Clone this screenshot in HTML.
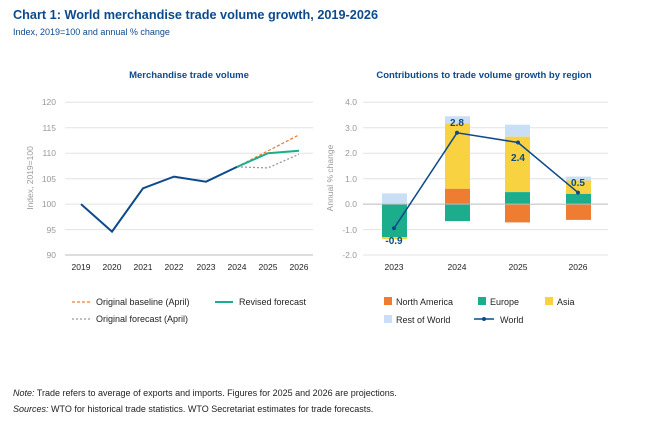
<!DOCTYPE html><html><head><style>body{margin:0;background:#fff;width:650px;height:427px;overflow:hidden;font-family:"Liberation Sans",sans-serif}</style></head><body>
<svg width="650" height="427" xmlns="http://www.w3.org/2000/svg" font-family="Liberation Sans, sans-serif">
<text x="13" y="19" font-size="12.7" font-weight="bold" fill="#0d4a8c">Chart 1: World merchandise trade volume growth, 2019-2026</text>
<text x="13" y="35" font-size="9" fill="#0d4a8c">Index, 2019=100 and annual % change</text>
<text x="189" y="78" font-size="9.5" font-weight="bold" fill="#0d4a8c" text-anchor="middle">Merchandise trade volume</text>
<text x="484" y="78" font-size="9.5" font-weight="bold" fill="#0d4a8c" text-anchor="middle">Contributions to trade volume growth by region</text>
<g stroke="#e3e3e3" stroke-width="1">
<line x1="65" x2="313" y1="102.3" y2="102.3"/><line x1="65" x2="313" y1="127.8" y2="127.8"/><line x1="65" x2="313" y1="153.2" y2="153.2"/><line x1="65" x2="313" y1="178.7" y2="178.7"/><line x1="65" x2="313" y1="204.1" y2="204.1"/><line x1="65" x2="313" y1="229.6" y2="229.6"/>
<line x1="363" x2="608" y1="102.3" y2="102.3"/><line x1="363" x2="608" y1="127.8" y2="127.8"/><line x1="363" x2="608" y1="153.2" y2="153.2"/><line x1="363" x2="608" y1="178.7" y2="178.7"/><line x1="363" x2="608" y1="229.6" y2="229.6"/><line x1="363" x2="608" y1="255" y2="255"/>
</g>
<line x1="65" x2="313" y1="255" y2="255" stroke="#bbb"/>
<g font-size="8.5" fill="#999" text-anchor="end">
<text x="56" y="105">120</text><text x="56" y="131">115</text><text x="56" y="156">110</text><text x="56" y="182">105</text><text x="56" y="207">100</text><text x="56" y="233">95</text><text x="56" y="258">90</text>
<text x="357" y="105">4.0</text><text x="357" y="131">3.0</text><text x="357" y="156">2.0</text><text x="357" y="182">1.0</text><text x="357" y="207">0.0</text><text x="357" y="233">-1.0</text><text x="357" y="258">-2.0</text>
</g>
<text transform="translate(33,178) rotate(-90)" font-size="8.5" fill="#999" text-anchor="middle">Index, 2019=100</text>
<text transform="translate(333,178) rotate(-90)" font-size="8.5" fill="#999" text-anchor="middle">Annual % change</text>
<g font-size="8.5" fill="#222" text-anchor="middle">
<text x="81" y="270">2019</text><text x="112" y="270">2020</text><text x="143" y="270">2021</text><text x="174" y="270">2022</text><text x="206" y="270">2023</text><text x="237" y="270">2024</text><text x="268" y="270">2025</text><text x="299" y="270">2026</text>
<text x="394" y="270">2023</text><text x="457" y="270">2024</text><text x="518" y="270">2025</text><text x="578" y="270">2026</text>
</g>
<polyline points="237,166.9 268,167.9 299,154.2" fill="none" stroke="#999" stroke-width="1.3" stroke-dasharray="2,2"/>
<polyline points="237,166.9 299,134.9" fill="none" stroke="#ef7d31" stroke-width="1.3" stroke-dasharray="3,2"/>
<polyline points="237,166.9 268,153.2 299,150.7" fill="none" stroke="#1cae8c" stroke-width="2"/>
<polyline points="81,204.1 112,231.6 143,188.3 174,176.6 206,181.7 237,166.9" fill="none" stroke="#0d4a8c" stroke-width="2"/>
<g>
<rect x="382" y="193.4" width="25" height="10.7" fill="#c8dff5"/>
<rect x="382" y="204.1" width="25" height="33.1" fill="#1cae8c"/>
<rect x="382" y="237.2" width="25" height="2" fill="#f8d240"/>
<rect x="445" y="116.3" width="25" height="7.1" fill="#c8dff5"/>
<rect x="445" y="123.4" width="25" height="65.4" fill="#f8d240"/>
<rect x="445" y="188.8" width="25" height="15.3" fill="#ef7d31"/>
<rect x="445" y="204.1" width="25" height="17" fill="#1cae8c"/>
<rect x="505" y="124.7" width="25" height="12" fill="#c8dff5"/>
<rect x="505" y="136.7" width="25" height="55.4" fill="#f8d240"/>
<rect x="505" y="192.1" width="25" height="12" fill="#1cae8c"/>
<rect x="505" y="204.1" width="25" height="18.3" fill="#ef7d31"/>
<rect x="566" y="176.6" width="25" height="3.9" fill="#c8dff5"/>
<rect x="566" y="180.5" width="25" height="13.4" fill="#f8d240"/>
<rect x="566" y="193.9" width="25" height="10.2" fill="#1cae8c"/>
<rect x="566" y="204.1" width="25" height="15.8" fill="#ef7d31"/>
</g>
<line x1="363" x2="608" y1="204.1" y2="204.1" stroke="#bbb"/>
<polyline points="394,228.3 457,132.8 518,142.5 578,192.6" fill="none" stroke="#0d4a8c" stroke-width="1.5"/>
<g fill="#0d4a8c"><circle cx="394" cy="228.3" r="2"/><circle cx="457" cy="132.8" r="2"/><circle cx="518" cy="142.5" r="2"/><circle cx="578" cy="192.6" r="2"/></g>
<g font-size="10" font-weight="bold" fill="#0d4a8c" text-anchor="middle">
<text x="394" y="244">-0.9</text><text x="457" y="126">2.8</text><text x="518" y="161">2.4</text><text x="578" y="186">0.5</text>
</g>
<g font-size="9" fill="#222">
<line x1="72" x2="90" y1="302" y2="302" stroke="#ef7d31" stroke-width="1.3" stroke-dasharray="3,2"/><text x="96" y="305">Original baseline (April)</text>
<line x1="215" x2="233" y1="302" y2="302" stroke="#1cae8c" stroke-width="2"/><text x="239" y="305">Revised forecast</text>
<line x1="72" x2="90" y1="319" y2="319" stroke="#999" stroke-width="1.3" stroke-dasharray="2,2"/><text x="96" y="322">Original forecast (April)</text>
<rect x="384" y="297" width="8" height="8" fill="#ef7d31"/><text x="396" y="305">North America</text>
<rect x="478" y="297" width="8" height="8" fill="#1cae8c"/><text x="490" y="305">Europe</text>
<rect x="545" y="297" width="8" height="8" fill="#f8d240"/><text x="557" y="305">Asia</text>
<rect x="384" y="315" width="8" height="8" fill="#c8dff5"/><text x="396" y="323">Rest of World</text>
<line x1="474" x2="494" y1="319" y2="319" stroke="#0d4a8c" stroke-width="1.5"/><circle cx="484" cy="319" r="2" fill="#0d4a8c"/><text x="500" y="323">World</text>
</g>
<g font-size="9" fill="#222">
<text x="13" y="396"><tspan font-style="italic">Note:</tspan> Trade refers to average of exports and imports. Figures for 2025 and 2026 are projections.</text>
<text x="13" y="412"><tspan font-style="italic">Sources:</tspan> WTO for historical trade statistics. WTO Secretariat estimates for trade forecasts.</text>
</g>
</svg></body></html>
